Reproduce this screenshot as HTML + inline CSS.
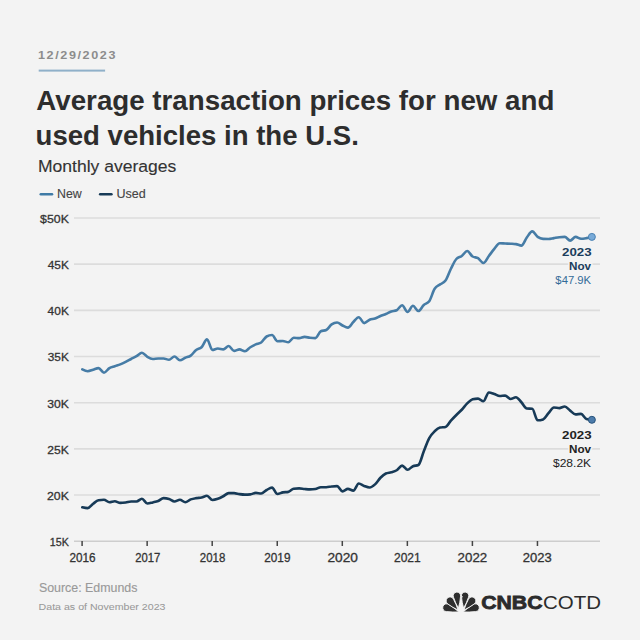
<!DOCTYPE html>
<html><head><meta charset="utf-8"><style>
html,body{margin:0;padding:0;background:#f3f3f3;width:640px;height:640px;overflow:hidden}
svg{display:block}
text{font-family:"Liberation Sans",sans-serif}
.g{stroke:#dcdcdc;stroke-width:1.6}
.ax{stroke:#cdcdcd;stroke-width:1.6}
.tk{stroke:#444;stroke-width:1.5}
.rg{stroke-width:0.25px}
.halo{paint-order:stroke;stroke:#f3f3f3;stroke-width:3px;stroke-linejoin:round}
</style></head><body>
<svg width="640" height="640" viewBox="0 0 640 640">
<rect width="640" height="640" fill="#f3f3f3"/>
<text id="date" x="38.0" y="58.6" font-size="11" font-weight="bold" fill="#8c8c8c" letter-spacing="1.4" textLength="79" lengthAdjust="spacingAndGlyphs">12/29/2023</text>
<rect x="38.7" y="69.6" width="66.4" height="2" fill="#8fb0c9"/>
<text id="t1" x="36.31" y="109.5" font-size="27.5" font-weight="bold" fill="#2d2d2d" textLength="518.04" lengthAdjust="spacingAndGlyphs">Average transaction prices for new and</text>

<text id="t2" x="35.58" y="144.8" font-size="27.5" font-weight="bold" fill="#2d2d2d" textLength="323.23" lengthAdjust="spacingAndGlyphs">used vehicles in the U.S.</text>

<text id="sub" x="37.95" y="172.2" font-size="16.3" fill="#333" textLength="138.42" lengthAdjust="spacingAndGlyphs" stroke="#333" stroke-width="0.12">Monthly averages</text>

<line x1="40.8" y1="194.3" x2="52" y2="194.3" stroke="#3f7ba6" stroke-width="2.6" stroke-linecap="round"/>
<text id="lnew" x="56.98" y="197.8" font-size="12" fill="#444" textLength="24.75" lengthAdjust="spacingAndGlyphs" stroke="#444" stroke-width="0.12">New</text>

<line x1="100.2" y1="194.3" x2="111.4" y2="194.3" stroke="#173a57" stroke-width="2.6" stroke-linecap="round"/>
<text id="lused" x="116.53" y="197.8" font-size="12" fill="#444" textLength="29.28" lengthAdjust="spacingAndGlyphs" stroke="#444" stroke-width="0.12">Used</text>

<line x1="74" y1="218.00" x2="600" y2="218.00" class="g"/>
<line x1="74" y1="264.17" x2="600" y2="264.17" class="g"/>
<line x1="74" y1="310.34" x2="600" y2="310.34" class="g"/>
<line x1="74" y1="356.51" x2="600" y2="356.51" class="g"/>
<line x1="74" y1="402.68" x2="600" y2="402.68" class="g"/>
<line x1="74" y1="448.85" x2="600" y2="448.85" class="g"/>
<line x1="74" y1="495.02" x2="600" y2="495.02" class="g"/>

<line x1="74" y1="541.2" x2="600" y2="541.2" class="ax"/>
<text id="y50" x="40.13" y="222.9" font-size="11.6" fill="#333" textLength="28.73" lengthAdjust="spacingAndGlyphs" stroke="#333" stroke-width="0.3">$50K</text>
<text id="y45" x="47.73" y="269.07" font-size="11.6" fill="#333" textLength="21.11" lengthAdjust="spacingAndGlyphs" stroke="#333" stroke-width="0.3">45K</text>
<text id="y40" x="47.63" y="315.24" font-size="11.6" fill="#333" textLength="21.21" lengthAdjust="spacingAndGlyphs" stroke="#333" stroke-width="0.3">40K</text>
<text id="y35" x="47.76" y="361.41" font-size="11.6" fill="#333" textLength="21.08" lengthAdjust="spacingAndGlyphs" stroke="#333" stroke-width="0.3">35K</text>
<text id="y30" x="47.24" y="407.58" font-size="11.6" fill="#333" textLength="21.60" lengthAdjust="spacingAndGlyphs" stroke="#333" stroke-width="0.3">30K</text>
<text id="y25" x="47.29" y="453.75" font-size="11.6" fill="#333" textLength="21.55" lengthAdjust="spacingAndGlyphs" stroke="#333" stroke-width="0.3">25K</text>
<text id="y20" x="46.99" y="499.92" font-size="11.6" fill="#333" textLength="21.86" lengthAdjust="spacingAndGlyphs" stroke="#333" stroke-width="0.3">20K</text>
<text id="y15" x="49.80" y="546.09" font-size="11.6" fill="#333" textLength="19.03" lengthAdjust="spacingAndGlyphs" stroke="#333" stroke-width="0.3">15K</text>

<line x1="82.10" y1="541" x2="82.10" y2="546" class="tk"/>
<text id="x2016" x="69.41" y="562" font-size="12" fill="#333" textLength="26.11" lengthAdjust="spacingAndGlyphs" stroke="#333" stroke-width="0.3">2016</text>
<line x1="147.15" y1="541" x2="147.15" y2="546" class="tk"/>
<text id="x2017" x="135.24" y="562" font-size="12" fill="#333" textLength="25.05" lengthAdjust="spacingAndGlyphs" stroke="#333" stroke-width="0.3">2017</text>
<line x1="212.20" y1="541" x2="212.20" y2="546" class="tk"/>
<text id="x2018" x="199.83" y="562" font-size="12" fill="#333" textLength="25.48" lengthAdjust="spacingAndGlyphs" stroke="#333" stroke-width="0.3">2018</text>
<line x1="277.25" y1="541" x2="277.25" y2="546" class="tk"/>
<text id="x2019" x="264.31" y="562" font-size="12" fill="#333" textLength="26.14" lengthAdjust="spacingAndGlyphs" stroke="#333" stroke-width="0.3">2019</text>
<line x1="342.30" y1="541" x2="342.30" y2="546" class="tk"/>
<text id="x2020" x="327.52" y="562" font-size="12" fill="#333" textLength="30.43" lengthAdjust="spacingAndGlyphs" stroke="#333" stroke-width="0.3">2020</text>
<line x1="407.35" y1="541" x2="407.35" y2="546" class="tk"/>
<text id="x2021" x="394.00" y="562" font-size="12" fill="#333" textLength="26.70" lengthAdjust="spacingAndGlyphs" stroke="#333" stroke-width="0.3">2021</text>
<line x1="472.40" y1="541" x2="472.40" y2="546" class="tk"/>
<text id="x2022" x="457.64" y="562" font-size="12" fill="#333" textLength="29.56" lengthAdjust="spacingAndGlyphs" stroke="#333" stroke-width="0.3">2022</text>
<line x1="537.45" y1="541" x2="537.45" y2="546" class="tk"/>
<text id="x2023" x="522.85" y="562" font-size="12" fill="#333" textLength="28.93" lengthAdjust="spacingAndGlyphs" stroke="#333" stroke-width="0.3">2023</text>

<path id="newline" d="M82.30,369.40C84.11,370.30,85.91,371.20,87.72,371.20C89.53,371.20,91.33,370.22,93.14,369.70C94.95,369.18,96.76,368.10,98.56,368.10C100.37,368.10,102.18,372.70,103.98,372.70C105.79,372.70,107.60,369.18,109.40,368.10C111.21,367.02,113.02,366.82,114.82,366.20C116.63,365.58,118.44,365.12,120.25,364.40C122.05,363.68,123.86,362.80,125.67,361.90C127.47,361.00,129.28,359.95,131.09,359.00C132.89,358.05,134.70,357.25,136.51,356.20C138.32,355.15,140.12,352.70,141.93,352.70C143.74,352.70,145.54,355.85,147.35,356.90C149.16,357.95,150.96,359.00,152.77,359.00C154.58,359.00,156.38,358.50,158.19,358.50C160.00,358.50,161.81,358.50,163.61,358.50C165.42,358.50,167.23,359.75,169.03,359.75C170.84,359.75,172.65,356.50,174.45,356.50C176.26,356.50,178.07,360.25,179.88,360.25C181.68,360.25,183.49,358.52,185.30,357.75C187.10,356.98,188.91,356.89,190.72,355.60C192.52,354.31,194.33,351.39,196.14,350.00C197.94,348.61,199.75,349.02,201.56,347.25C203.37,345.48,205.17,339.40,206.98,339.40C208.79,339.40,210.59,350.00,212.40,350.00C214.21,350.00,216.01,348.50,217.82,348.50C219.63,348.50,221.43,349.40,223.24,349.40C225.05,349.40,226.86,346.00,228.66,346.00C230.47,346.00,232.28,350.90,234.08,350.90C235.89,350.90,237.70,349.40,239.50,349.40C241.31,349.40,243.12,351.25,244.93,351.25C246.73,351.25,248.54,348.39,250.35,347.25C252.15,346.11,253.96,345.19,255.77,344.40C257.57,343.61,259.38,343.77,261.19,342.50C262.99,341.23,264.80,337.50,266.61,336.50C268.42,335.50,270.22,335.00,272.03,335.00C273.84,335.00,275.64,341.25,277.45,341.25C279.26,341.25,281.06,341.00,282.87,341.00C284.68,341.00,286.48,342.25,288.29,342.25C290.10,342.25,291.91,337.75,293.71,337.75C295.52,337.75,297.33,338.10,299.13,338.10C300.94,338.10,302.75,336.90,304.55,336.90C306.36,336.90,308.17,337.55,309.98,337.75C311.78,337.95,313.59,338.10,315.40,338.10C317.20,338.10,319.01,332.08,320.82,331.25C322.62,330.42,324.43,330.83,326.24,330.00C328.04,329.17,329.85,325.65,331.66,324.40C333.47,323.15,335.27,322.50,337.08,322.50C338.89,322.50,340.69,324.65,342.50,325.50C344.31,326.35,346.11,327.60,347.92,327.60C349.73,327.60,351.53,323.73,353.34,322.00C355.15,320.28,356.96,317.25,358.76,317.25C360.57,317.25,362.38,323.10,364.18,323.10C365.99,323.10,367.80,320.52,369.60,319.75C371.41,318.98,373.22,319.12,375.03,318.50C376.83,317.88,378.64,316.75,380.45,316.00C382.25,315.25,384.06,314.75,385.87,314.00C387.67,313.25,389.48,312.12,391.29,311.50C393.09,310.88,394.90,311.08,396.71,310.25C398.52,309.42,400.32,305.25,402.13,305.25C403.94,305.25,405.74,312.00,407.55,312.00C409.36,312.00,411.16,305.80,412.97,305.80C414.78,305.80,416.58,311.00,418.39,311.00C420.20,311.00,422.01,306.62,423.81,305.00C425.62,303.38,427.43,303.75,429.23,301.25C431.04,298.75,432.85,291.56,434.65,288.75C436.46,285.94,438.27,285.76,440.07,284.40C441.88,283.04,443.69,283.13,445.50,280.60C447.30,278.07,449.11,272.35,450.92,268.75C452.72,265.15,454.53,261.00,456.34,259.00C458.14,257.00,459.95,257.33,461.76,256.00C463.57,254.67,465.37,251.00,467.18,251.00C468.99,251.00,470.79,255.37,472.60,256.50C474.41,257.63,476.21,257.12,478.02,258.20C479.83,259.28,481.63,263.00,483.44,263.00C485.25,263.00,487.06,258.35,488.86,256.00C490.67,253.65,492.48,251.03,494.28,248.90C496.09,246.77,497.90,243.20,499.70,243.20C501.51,243.20,503.32,243.41,505.12,243.50C506.93,243.59,508.74,243.65,510.55,243.75C512.35,243.85,514.16,243.87,515.97,244.10C517.77,244.33,519.58,245.60,521.39,245.60C523.19,245.60,525.00,239.87,526.81,237.50C528.62,235.13,530.42,231.40,532.23,231.40C534.04,231.40,535.84,235.65,537.65,236.90C539.46,238.15,541.26,238.83,543.07,238.90C544.88,238.97,546.68,239.00,548.49,239.00C550.30,239.00,552.11,238.39,553.91,238.10C555.72,237.81,557.53,237.45,559.33,237.25C561.14,237.05,562.95,236.90,564.75,236.90C566.56,236.90,568.37,240.60,570.17,240.60C571.98,240.60,573.79,236.90,575.60,236.90C577.40,236.90,579.21,238.75,581.02,238.75C582.82,238.75,584.63,238.41,586.44,238.10C588.24,237.79,590.05,237.35,591.86,236.90" fill="none" stroke="#467ca6" stroke-width="2.6" stroke-linejoin="round" stroke-linecap="round"/>
<path id="usedline" d="M82.30,507.25C84.11,507.68,85.91,508.10,87.72,508.10C89.53,508.10,91.33,505.06,93.14,503.75C94.95,502.44,96.76,500.58,98.56,500.25C100.37,499.92,102.18,499.75,103.98,499.75C105.79,499.75,107.60,502.25,109.40,502.25C111.21,502.25,113.02,501.25,114.82,501.25C116.63,501.25,118.44,502.90,120.25,502.90C122.05,502.90,123.86,502.73,125.67,502.50C127.47,502.27,129.28,501.50,131.09,501.50C132.89,501.50,134.70,501.50,136.51,501.50C138.32,501.50,140.12,498.75,141.93,498.75C143.74,498.75,145.54,503.50,147.35,503.50C149.16,503.50,150.96,502.82,152.77,502.40C154.58,501.98,156.38,501.72,158.19,501.00C160.00,500.28,161.81,498.10,163.61,498.10C165.42,498.10,167.23,498.43,169.03,499.00C170.84,499.57,172.65,501.50,174.45,501.50C176.26,501.50,178.07,499.75,179.88,499.75C181.68,499.75,183.49,502.25,185.30,502.25C187.10,502.25,188.91,500.09,190.72,499.40C192.52,498.71,194.33,498.42,196.14,498.10C197.94,497.78,199.75,497.88,201.56,497.50C203.37,497.12,205.17,495.80,206.98,495.80C208.79,495.80,210.59,500.00,212.40,500.00C214.21,500.00,216.01,499.43,217.82,498.80C219.63,498.18,221.43,497.20,223.24,496.25C225.05,495.30,226.86,493.10,228.66,493.10C230.47,493.10,232.28,493.10,234.08,493.10C235.89,493.10,237.70,493.85,239.50,494.10C241.31,494.35,243.12,494.60,244.93,494.60C246.73,494.60,248.54,494.53,250.35,494.40C252.15,494.27,253.96,492.90,255.77,492.90C257.57,492.90,259.38,493.50,261.19,493.50C262.99,493.50,264.80,490.98,266.61,490.00C268.42,489.02,270.22,487.60,272.03,487.60C273.84,487.60,275.64,494.00,277.45,494.00C279.26,494.00,281.06,492.73,282.87,492.40C284.68,492.07,286.48,492.23,288.29,491.90C290.10,491.57,291.91,488.98,293.71,488.75C295.52,488.52,297.33,488.40,299.13,488.40C300.94,488.40,302.75,488.83,304.55,489.00C306.36,489.17,308.17,489.40,309.98,489.40C311.78,489.40,313.59,489.27,315.40,489.00C317.20,488.73,319.01,487.25,320.82,487.25C322.62,487.25,324.43,487.25,326.24,487.25C328.04,487.25,329.85,486.69,331.66,486.50C333.47,486.31,335.27,486.10,337.08,486.10C338.89,486.10,340.69,491.40,342.50,491.40C344.31,491.40,346.11,488.90,347.92,488.90C349.73,488.90,351.53,490.60,353.34,490.60C355.15,490.60,356.96,483.50,358.76,483.50C360.57,483.50,362.38,485.33,364.18,486.00C365.99,486.67,367.80,487.50,369.60,487.50C371.41,487.50,373.22,486.02,375.03,484.40C376.83,482.77,378.64,479.57,380.45,477.75C382.25,475.93,384.06,474.33,385.87,473.50C387.67,472.67,389.48,472.79,391.29,472.25C393.09,471.71,394.90,471.36,396.71,470.25C398.52,469.14,400.32,465.60,402.13,465.60C403.94,465.60,405.74,469.80,407.55,469.80C409.36,469.80,411.16,467.00,412.97,466.20C414.78,465.40,416.58,465.80,418.39,465.00C420.20,464.20,422.01,455.73,423.81,451.25C425.62,446.77,427.43,441.43,429.23,438.10C431.04,434.77,432.85,433.02,434.65,431.25C436.46,429.48,438.27,427.90,440.07,427.50C441.88,427.10,443.69,427.30,445.50,426.90C447.30,426.50,449.11,422.58,450.92,420.60C452.72,418.62,454.53,416.81,456.34,415.00C458.14,413.19,459.95,411.68,461.76,409.75C463.57,407.82,465.37,405.16,467.18,403.40C468.99,401.64,470.79,399.60,472.60,399.20C474.41,398.80,476.21,398.60,478.02,398.60C479.83,398.60,481.63,401.25,483.44,401.25C485.25,401.25,487.06,392.50,488.86,392.50C490.67,392.50,492.48,393.42,494.28,394.00C496.09,394.58,497.90,396.00,499.70,396.00C501.51,396.00,503.32,395.60,505.12,395.60C506.93,395.60,508.74,399.00,510.55,399.00C512.35,399.00,514.16,397.25,515.97,397.25C517.77,397.25,519.58,400.38,521.39,402.25C523.19,404.12,525.00,408.33,526.81,408.50C528.62,408.67,530.42,408.58,532.23,408.75C534.04,408.92,535.84,420.30,537.65,420.30C539.46,420.30,541.26,420.00,543.07,419.40C544.88,418.80,546.68,415.08,548.49,413.10C550.30,411.12,552.11,407.50,553.91,407.50C555.72,407.50,557.53,408.10,559.33,408.10C561.14,408.10,562.95,406.50,564.75,406.50C566.56,406.50,568.37,409.28,570.17,410.60C571.98,411.92,573.79,414.40,575.60,414.40C577.40,414.40,579.21,413.90,581.02,413.90C582.82,413.90,584.63,418.30,586.44,418.90C588.24,419.50,590.05,419.65,591.86,419.80" fill="none" stroke="#173a57" stroke-width="2.6" stroke-linejoin="round" stroke-linecap="round"/>
<circle cx="591.86" cy="236.9" r="3.5" fill="#78aad8" stroke="#4a82b3" stroke-width="1"/>
<circle cx="591.86" cy="419.8" r="3.5" fill="#4d7cab" stroke="#28537c" stroke-width="1"/>
<g class="halo">
<text id="n1" x="562.03" y="256" font-size="10.6" font-weight="bold" fill="#1b3d5c" textLength="29.56" lengthAdjust="spacingAndGlyphs">2023</text>

<text id="n2" x="569.01" y="270.1" font-size="10.6" font-weight="bold" fill="#1b3d5c" textLength="22.04" lengthAdjust="spacingAndGlyphs">Nov</text>

<text id="n3" x="555.39" y="284.3" font-size="10.6" fill="#336b98" textLength="35.75" lengthAdjust="spacingAndGlyphs">$47.9K</text>

<text id="u1" x="562.03" y="438.8" font-size="10.6" font-weight="bold" fill="#222" textLength="29.56" lengthAdjust="spacingAndGlyphs">2023</text>

<text id="u2" x="569.01" y="452.7" font-size="10.6" font-weight="bold" fill="#222" textLength="22.04" lengthAdjust="spacingAndGlyphs">Nov</text>

<text id="u3" x="552.98" y="467.2" font-size="10.6" fill="#222" textLength="38.17" lengthAdjust="spacingAndGlyphs">$28.2K</text>

</g>
<text id="src" x="38.94" y="591.6" font-size="13" fill="#999" textLength="98.48" lengthAdjust="spacingAndGlyphs" stroke="#999" stroke-width="0.15">Source: Edmunds</text>

<text id="data" x="38.62" y="610" font-size="9.6" fill="#999" textLength="126.84" lengthAdjust="spacingAndGlyphs" stroke="#999" stroke-width="0.05">Data as of November 2023</text>

<g id="pea" fill="#2e2e2e" stroke="#f3f3f3" stroke-width="0.9" stroke-linejoin="round"><path d="M458.80,611.90 Q454.22,607.75 448.92,604.57 A3.9,3.9 0 1 0 446.50,611.60 Q452.64,612.35 458.80,611.90Z"/><path d="M463.20,611.90 Q469.36,612.35 475.50,611.60 A3.9,3.9 0 1 0 473.08,604.57 Q467.78,607.75 463.20,611.90Z"/><path d="M458.00,610.00 Q456.33,604.43 453.55,599.32 A3.85,3.85 0 1 0 448.04,604.11 Q452.72,607.57 458.00,610.00Z"/><path d="M464.00,610.00 Q469.28,607.57 473.96,604.11 A3.85,3.85 0 1 0 468.45,599.32 Q465.67,604.43 464.00,610.00Z"/><path d="M458.40,608.20 Q460.06,602.44 460.54,596.46 A3.7,3.7 0 1 0 453.52,597.31 Q455.41,603.00 458.40,608.20Z"/><path d="M463.60,608.20 Q466.59,603.00 468.48,597.31 A3.7,3.7 0 1 0 461.46,596.46 Q461.94,602.44 463.60,608.20Z"/><circle cx="462.0" cy="596.7" r="0.8" fill="#f3f3f3" stroke="none"/></g>
<text id="cnbc" x="481.15" y="609.4" font-size="19" font-weight="bold" fill="#2b2b2b" textLength="61.41" lengthAdjust="spacingAndGlyphs" stroke="#2b2b2b" stroke-width="0.8">CNBC</text>

<text id="cotd" x="542.98" y="609.4" font-size="19" fill="#2b2b2b" textLength="58.01" lengthAdjust="spacingAndGlyphs">COTD</text>

</svg>
</body></html>
